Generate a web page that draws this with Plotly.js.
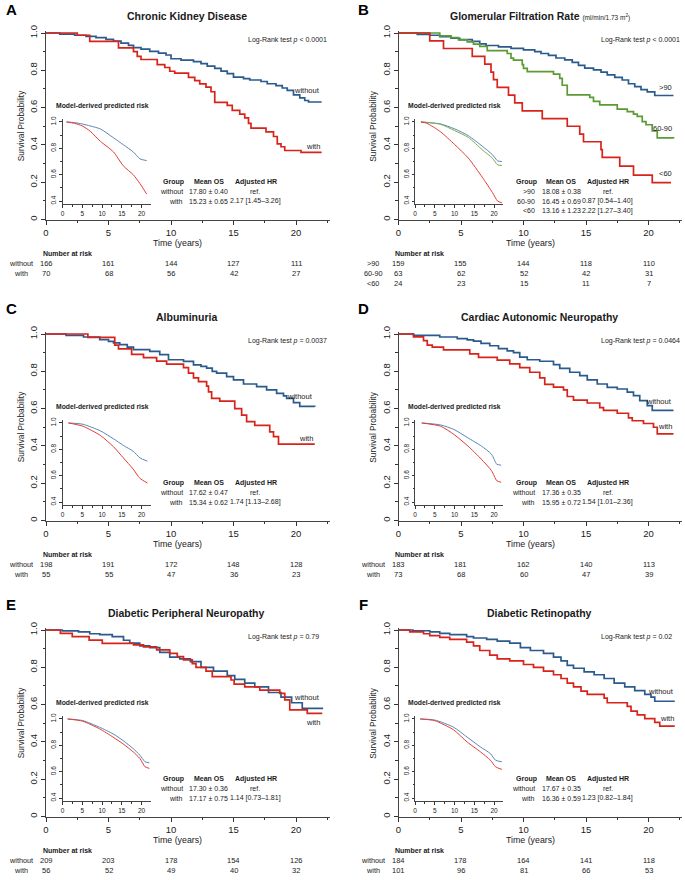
<!DOCTYPE html>
<html>
<head>
<meta charset="utf-8">
<script src="https://cdn.plot.ly/plotly-3.0.1.min.js"></script>
<style>
  html, body { margin: 0; padding: 0; background: #fff; }
  #chart { width: 685px; height: 880px; }
</style>
</head>
<body>
<div id="chart"></div>
<script>
// Kaplan-Meier step points [years, survival]
const ckdWithout = [[0,1],[1.1,0.994],[2.3,0.988],[3.2,0.982],[4.0,0.975],[4.8,0.966],[5.4,0.956],[6.0,0.946],[6.6,0.934],[7.0,0.922],[7.6,0.914],[8.3,0.902],[9.0,0.892],[9.6,0.882],[10.0,0.862],[10.8,0.855],[11.8,0.847],[12.4,0.836],[12.9,0.822],[13.5,0.81],[14.0,0.796],[14.5,0.782],[15.0,0.763],[15.8,0.755],[16.3,0.748],[17.2,0.74],[17.7,0.728],[18.4,0.718],[18.9,0.705],[19.3,0.692],[19.8,0.668],[20.3,0.652],[20.7,0.638],[21.0,0.63],[22.05,0.63]];
const ckdWith = [[0,1],[2.5,0.988],[3.5,0.955],[5.8,0.92],[7.0,0.9],[7.3,0.875],[7.6,0.858],[8.9,0.83],[9.5,0.815],[9.9,0.795],[10.3,0.785],[11.4,0.762],[11.9,0.745],[12.3,0.727],[12.8,0.71],[13.2,0.685],[13.5,0.628],[14.5,0.612],[14.9,0.585],[15.5,0.565],[15.9,0.545],[16.2,0.515],[16.4,0.49],[17.6,0.47],[18.2,0.445],[18.5,0.405],[18.8,0.39],[19.1,0.37],[20.4,0.36],[22.05,0.36]];

const gfrHigh = [[0,1],[1.5,0.993],[2.5,0.988],[3.3,0.98],[4.2,0.972],[4.9,0.964],[5.9,0.955],[6.5,0.942],[7.0,0.933],[8.0,0.926],[9.0,0.918],[10.0,0.91],[10.9,0.9],[11.4,0.89],[12.0,0.88],[12.6,0.866],[13.3,0.856],[13.9,0.842],[14.4,0.826],[14.9,0.812],[15.6,0.802],[16.2,0.79],[16.7,0.776],[17.3,0.762],[17.9,0.748],[18.4,0.728],[18.9,0.712],[19.4,0.696],[19.9,0.684],[20.5,0.665],[22.0,0.665]];
const gfrMid = [[0,1],[3.3,0.985],[4.2,0.975],[4.8,0.963],[5.5,0.952],[6.0,0.94],[6.5,0.928],[7.1,0.905],[8.7,0.89],[9.0,0.865],[9.2,0.855],[9.9,0.83],[10.0,0.81],[10.3,0.793],[12.4,0.78],[12.9,0.757],[13.1,0.72],[13.5,0.668],[15.3,0.655],[15.6,0.633],[16.1,0.615],[17.5,0.592],[18.3,0.578],[18.8,0.565],[19.1,0.553],[19.5,0.525],[19.8,0.508],[20.3,0.475],[20.7,0.438],[22.0,0.435]];
const gfrLow = [[0,1],[2.5,0.958],[3.6,0.917],[5.9,0.875],[6.9,0.833],[7.4,0.79],[7.6,0.75],[7.9,0.708],[8.8,0.667],[9.3,0.625],[9.9,0.583],[11.5,0.541],[13.5,0.5],[14.5,0.458],[14.8,0.417],[16.2,0.375],[16.3,0.333],[17.7,0.286],[18.8,0.238],[20.3,0.198],[21.8,0.198]];

const albWithout = [[0,1],[1.6,0.993],[3.0,0.984],[4.3,0.97],[5.0,0.96],[5.4,0.952],[5.9,0.943],[6.5,0.93],[7.0,0.916],[8.3,0.907],[9.1,0.889],[9.8,0.862],[11.0,0.853],[11.8,0.835],[12.4,0.826],[12.85,0.817],[13.3,0.8],[13.65,0.79],[14.45,0.772],[15.0,0.754],[15.8,0.732],[16.85,0.718],[17.65,0.7],[18.45,0.682],[19.0,0.668],[19.25,0.655],[19.8,0.632],[20.3,0.612],[21.5,0.61]];
const albWith = [[0,1],[3.35,0.982],[5.5,0.94],[5.8,0.92],[6.85,0.891],[7.8,0.873],[8.85,0.855],[9.65,0.838],[11.0,0.82],[11.4,0.79],[11.8,0.765],[12.2,0.745],[12.85,0.72],[13.0,0.69],[13.25,0.655],[13.9,0.64],[15.1,0.6],[15.65,0.565],[16.05,0.53],[16.7,0.51],[17.9,0.475],[18.2,0.45],[18.6,0.41],[21.5,0.41]];

const canWithout = [[0,1],[1.2,0.993],[3.3,0.984],[4.7,0.975],[5.5,0.968],[6.0,0.962],[6.6,0.95],[7.3,0.937],[8.0,0.922],[8.7,0.91],[9.2,0.9],[9.7,0.876],[10.3,0.862],[11.3,0.854],[12.4,0.836],[12.9,0.816],[13.7,0.795],[14.5,0.777],[15.1,0.754],[15.9,0.732],[16.7,0.714],[17.5,0.705],[18.3,0.688],[18.8,0.67],[19.3,0.643],[19.9,0.616],[20.3,0.59],[22.0,0.59]];
const canWith = [[0,1],[1.2,0.985],[2.0,0.965],[2.3,0.94],[2.7,0.93],[3.6,0.915],[5.7,0.893],[6.4,0.875],[7.9,0.86],[8.9,0.84],[9.7,0.82],[10.5,0.795],[11.3,0.765],[11.7,0.73],[12.4,0.715],[13.2,0.7],[13.5,0.665],[14.0,0.645],[15.1,0.63],[16.1,0.605],[16.4,0.59],[17.5,0.575],[18.4,0.55],[18.7,0.535],[19.6,0.52],[20.4,0.5],[20.7,0.465],[22.0,0.465]];

const dpnWithout = [[0,1],[1.3,0.995],[2.6,0.99],[3.5,0.98],[4.3,0.975],[5.3,0.965],[6.2,0.945],[6.7,0.93],[7.5,0.915],[8.3,0.905],[9.1,0.88],[9.9,0.855],[10.7,0.845],[11.55,0.83],[12.4,0.8],[13.4,0.78],[14.5,0.755],[15.1,0.735],[15.9,0.715],[16.7,0.695],[17.8,0.665],[18.8,0.64],[19.65,0.61],[20.5,0.58],[22.1,0.575]];
const dpnWith = [[0,1],[1.15,0.982],[2.1,0.964],[3.45,0.946],[4.5,0.928],[7.0,0.92],[7.8,0.91],[8.85,0.893],[9.9,0.875],[10.5,0.857],[11.0,0.84],[11.7,0.82],[12.0,0.8],[12.8,0.78],[13.3,0.75],[14.8,0.732],[15.05,0.71],[15.9,0.695],[17.1,0.678],[18.7,0.66],[19.1,0.625],[19.5,0.572],[20.9,0.553],[22.1,0.553]];

const drWithout = [[0,1],[1.15,0.996],[2.5,0.99],[3.3,0.982],[4.1,0.975],[5.45,0.965],[6.0,0.957],[7.05,0.95],[7.9,0.94],[8.9,0.93],[9.75,0.905],[10.55,0.89],[11.6,0.875],[12.4,0.855],[13.0,0.835],[13.5,0.81],[14.0,0.795],[14.85,0.775],[15.65,0.76],[16.45,0.74],[17.25,0.715],[18.1,0.695],[18.9,0.675],[19.7,0.655],[20.2,0.64],[20.5,0.618],[22.1,0.618]];
const drWith = [[0,1],[0.9,0.99],[2.0,0.98],[2.5,0.97],[3.3,0.96],[4.1,0.95],[5.45,0.935],[6.0,0.915],[6.5,0.89],[7.3,0.865],[7.9,0.845],[8.9,0.835],[10.0,0.815],[10.8,0.8],[11.6,0.78],[12.4,0.76],[13.0,0.74],[13.5,0.715],[14.0,0.695],[14.6,0.672],[15.1,0.655],[16.45,0.635],[16.7,0.61],[18.3,0.59],[18.6,0.565],[19.1,0.545],[19.7,0.525],[20.5,0.505],[20.9,0.485],[22.1,0.485]];

// model-derived predicted risk (insets)
const ckdModelWithout = [[1,1.0],[3,0.995],[5,0.985],[7,0.97],[9.6,0.947],[12.9,0.88],[15.4,0.827],[17.9,0.773],[19.6,0.72],[21.3,0.707]];
const ckdModelWith = [[1,1.0],[3,0.99],[5,0.97],[7,0.93],[9.6,0.853],[12.9,0.773],[15.4,0.667],[17.9,0.6],[19.6,0.533],[21.3,0.453]];
const gfrModelHigh = [[1.5,1.0],[3,0.997],[6.5,0.985],[10,0.948],[13.5,0.896],[17,0.817],[19.6,0.752],[20.9,0.705],[22,0.7]];
const gfrModelMid = [[1.5,1.0],[3,0.996],[6.5,0.982],[10,0.935],[13.5,0.883],[17,0.79],[19.6,0.725],[20.9,0.675],[22,0.67]];
const gfrModelLow = [[1.5,1.0],[3,0.99],[6.5,0.925],[10,0.83],[13.5,0.726],[17,0.582],[19.6,0.465],[20.9,0.4],[22,0.387]];
const albModelWithout = [[1.5,1.0],[5.2,0.99],[9.6,0.94],[12.9,0.88],[15.4,0.83],[17.9,0.785],[19.6,0.735],[21.5,0.71]];
const albModelWith = [[1.5,1.0],[5.2,0.975],[9.6,0.905],[12.9,0.82],[15.4,0.735],[17.9,0.65],[19.6,0.58],[21.5,0.545]];
const canModelWithout = [[1.7,1.0],[6.5,0.985],[9.9,0.95],[13.4,0.887],[16.8,0.825],[19.4,0.762],[20.7,0.687],[21.8,0.68]];
const canModelWith = [[1.7,1.0],[6.5,0.975],[9.9,0.912],[13.4,0.825],[16.8,0.725],[19.4,0.637],[20.7,0.562],[21.8,0.55]];
const dpnModelWithout = [[1.3,1.0],[5.1,0.988],[9.4,0.937],[12.8,0.887],[15.3,0.837],[17.9,0.775],[19.6,0.725],[20.9,0.675],[22,0.667]];
const dpnModelWith = [[1.3,1.0],[5.1,0.983],[9.4,0.925],[12.8,0.862],[15.3,0.812],[17.9,0.75],[19.6,0.7],[20.9,0.637],[22,0.625]];
const drModelWithout = [[1.3,1.0],[5,0.992],[9.8,0.937],[13.2,0.862],[16.6,0.787],[19.1,0.737],[20.4,0.687],[22,0.675]];
const drModelWith = [[1.3,1.0],[5,0.987],[9.8,0.917],[13.2,0.825],[16.6,0.75],[19.1,0.687],[20.4,0.637],[22,0.617]];

// number at risk at 0, 5, 10, 15, 20 years
const riskYears = [0, 5, 10, 15, 20];
const ckdRisk = [[166,161,144,127,111],[70,68,56,42,27]];
const gfrRisk = [[159,155,144,118,110],[63,62,52,42,31],[24,23,15,11,7]];
const albRisk = [[198,191,172,148,128],[55,55,47,36,23]];
const canRisk = [[183,181,162,140,113],[73,68,60,47,39]];
const dpnRisk = [[209,203,178,154,126],[56,52,49,40,32]];
const drRisk = [[184,178,164,141,118],[101,96,81,66,53]];

// group, mean OS, adjusted HR
const ckdStats = [["without","17.80 \u00b1 0.40","ref."],["with","15.23 \u00b1 0.65","2.17 [1.45\u20133.26]"]];
const gfrStats = [[">90","18.08 \u00b1 0.38","ref."],["60-90","16.45 \u00b1 0.69","0.87 [0.54\u20131.40]"],["<60","13.16 \u00b1 1.23","2.22 [1.27\u20133.40]"]];
const albStats = [["without","17.62 \u00b1 0.47","ref."],["with","15.34 \u00b1 0.62","1.74 [1.13\u20132.68]"]];
const canStats = [["without","17.36 \u00b1 0.35","ref."],["with","15.95 \u00b1 0.72","1.54 [1.01\u20132.36]"]];
const dpnStats = [["without","17.30 \u00b1 0.36","ref."],["with","17.17 \u00b1 0.75","1.14 [0.73\u20131.81]"]];
const drStats = [["without","17.67 \u00b1 0.35","ref."],["with","16.36 \u00b1 0.59","1.23 [0.82\u20131.84]"]];

const panelLetters = ["A", "B", "C", "D", "E", "F"];
const panelTitles = ["Chronic Kidney Disease",
  "Glomerular Filtration Rate <span style=\"font-size:6.5px;font-weight:normal\">(ml/min/1.73 m<sup>2</sup>)</span>",
  "Albuminuria", "Cardiac Autonomic Neuropathy", "Diabetic Peripheral Neuropathy", "Diabetic Retinopathy"];
const logRankP = ["< 0.0001", "< 0.0001", "= 0.0037", "= 0.0464", "= 0.79", "= 0.02"];

const BLUE = "#2b5b8c", RED = "#d8231b", GREEN = "#5b9a35";
const BLUE_L = "#5b86b6", RED_L = "#e23c33", GREEN_L = "#79ab50";
const FONT = '"Liberation Sans Narrow", "Liberation Sans", Arial, sans-serif';
const INK = "#1a1a1a";

const W = 685, H = 880;
const PX_YEAR = 12.5, MAIN_H = 186.5, X_MAX = 22.7;
const IN_PX_YEAR = 3.95, IN_X_MAX = 22.3;

function fx(p) { return p / W; }
function fy(p) { return 1 - p / H; }

// label y offsets (px below the 1.0 line) sit beside curve ends
const panels = [
  { x0: 46, yTop: 33, letterY: 10, curves: [ckdWithout, ckdWith], models: [ckdModelWithout, ckdModelWith],
    colors: [BLUE, RED], light: [BLUE_L, RED_L], risk: ckdRisk, stats: ckdStats,
    labels: [[22.05, 58], [22.05, 114]] },
  { x0: 398.5, yTop: 33, letterY: 10, curves: [gfrHigh, gfrMid, gfrLow], models: [gfrModelHigh, gfrModelMid, gfrModelLow],
    colors: [BLUE, GREEN, RED], light: [BLUE_L, GREEN_L, RED_L], risk: gfrRisk, stats: gfrStats,
    labels: [[22.0, 54.3], [22.0, 95.3], [22.0, 140.3]] },
  { x0: 46, yTop: 334, letterY: 308, curves: [albWithout, albWith], models: [albModelWithout, albModelWith],
    colors: [BLUE, RED], light: [BLUE_L, RED_L], risk: albRisk, stats: albStats,
    labels: [[21.5, 62.4], [21.5, 104.7]] },
  { x0: 398.5, yTop: 334, letterY: 308, curves: [canWithout, canWith], models: [canModelWithout, canModelWith],
    colors: [BLUE, RED], light: [BLUE_L, RED_L], risk: canRisk, stats: canStats,
    labels: [[22.05, 67.4], [22.05, 92.4]] },
  { x0: 46, yTop: 630, letterY: 604, curves: [dpnWithout, dpnWith], models: [dpnModelWithout, dpnModelWith],
    colors: [BLUE, RED], light: [BLUE_L, RED_L], risk: dpnRisk, stats: dpnStats,
    labels: [[22.05, 67.3], [22.05, 92.7]] },
  { x0: 398.5, yTop: 630, letterY: 604, curves: [drWithout, drWith], models: [drModelWithout, drModelWith],
    colors: [BLUE, RED], light: [BLUE_L, RED_L], risk: drRisk, stats: drStats,
    labels: [[22.2, 61], [22.2, 88.3]] }
];

function note(text, x, y, size, extra) {
  const a = {
    text: text, x: fx(x), y: fy(y), xref: "paper", yref: "paper",
    showarrow: false, xanchor: "center", yanchor: "middle",
    font: { family: FONT, size: size, color: INK }
  };
  return Object.assign(a, extra || {});
}

function axisBase(fontSize) {
  return {
    showline: true, linecolor: "#444", linewidth: 1,
    ticks: "outside", tickcolor: "#333", tickwidth: 1,
    showgrid: false, zeroline: false, fixedrange: true,
    tickfont: { family: FONT, size: fontSize, color: INK }
  };
}

const traces = [];
const layout = {
  width: W, height: H,
  margin: { l: 0, r: 0, t: 0, b: 0 },
  paper_bgcolor: "#ffffff", plot_bgcolor: "rgba(0,0,0,0)",
  showlegend: false,
  annotations: []
};

panels.forEach(function (pn, i) {
  const mi = 2 * i + 1, ii = 2 * i + 2;
  const mx = "x" + (mi === 1 ? "" : mi), my = "y" + (mi === 1 ? "" : mi);
  const ix = "x" + ii, iy = "y" + ii;
  const x0 = pn.x0, yTop = pn.yTop, yZero = yTop + MAIN_H;
  const groups = pn.stats.map(function (r) { return r[0]; });

  layout["xaxis" + (mi === 1 ? "" : mi)] = Object.assign(axisBase(9.5), {
    domain: [fx(x0), fx(x0 + X_MAX * PX_YEAR)], range: [0, X_MAX], anchor: my,
    tickvals: [0, 5, 10, 15, 20], ticklen: 4,
    minor: { tickvals: [2.5, 7.5, 12.5, 17.5, 22.5], ticks: "outside", ticklen: 2.5, tickcolor: "#333" }
  });
  layout["yaxis" + (mi === 1 ? "" : mi)] = Object.assign(axisBase(9.5), {
    domain: [fy(yZero), fy(yTop - 0.01 * MAIN_H)], range: [0, 1.01], anchor: mx,
    tickvals: [0, 0.2, 0.4, 0.6, 0.8, 1.0], ticktext: ["0", "0.2", "0.4", "0.6", "0.8", "1.0"],
    tickangle: -90, ticklen: 4,
    minor: { tickvals: [0.1, 0.3, 0.5, 0.7, 0.9], ticks: "outside", ticklen: 2.5, tickcolor: "#333" }
  });
  layout["xaxis" + ii] = Object.assign(axisBase(6.5), {
    domain: [fx(x0 + 16.5), fx(x0 + 16.5 + IN_X_MAX * IN_PX_YEAR)], range: [0, IN_X_MAX], anchor: iy,
    tickvals: [0, 5, 10, 15, 20], ticklen: 2.5,
    minor: { tickvals: [2.5, 7.5, 12.5, 17.5], ticks: "outside", ticklen: 1.5, tickcolor: "#333" }
  });
  layout["yaxis" + ii] = Object.assign(axisBase(6.5), {
    domain: [fy(yTop + 171.2), fy(yTop + 85.8)], range: [0.376, 1.024], anchor: ix,
    tickvals: [0.4, 0.6, 0.8, 1.0], ticktext: ["0.4", "0.6", "0.8", "1.0"],
    tickangle: -90, ticklen: 2.5,
    minor: { tickvals: [0.5, 0.7, 0.9], ticks: "outside", ticklen: 1.5, tickcolor: "#333" }
  });

  pn.curves.forEach(function (c, k) {
    traces.push({
      type: "scatter", mode: "lines", xaxis: mx, yaxis: my, hoverinfo: "skip",
      x: c.map(function (p) { return p[0]; }), y: c.map(function (p) { return p[1]; }),
      line: { shape: "hv", color: pn.colors[k], width: 1.7 }
    });
  });
  pn.models.forEach(function (c, k) {
    traces.push({
      type: "scatter", mode: "lines", xaxis: ix, yaxis: iy, hoverinfo: "skip",
      x: c.map(function (p) { return p[0]; }), y: c.map(function (p) { return p[1]; }),
      line: { shape: "spline", smoothing: 0.6, color: pn.light[k], width: 1 }
    });
  });

  const A = layout.annotations;
  A.push(note("<b>" + panelLetters[i] + "</b>", x0 - 35, pn.letterY, 15,
    { font: { family: '"Liberation Sans", Arial, sans-serif', size: 15, color: "#000" } }));
  A.push(note("<b>" + panelTitles[i] + "</b>", x0 + 141, yTop - 17.3, 10.5));
  A.push(note("Log-Rank test <i>p</i> " + logRankP[i], x0 + 200, yTop + 7, 7, { xanchor: "left" }));
  A.push(note("Survival Probability", x0 - 25, yTop + MAIN_H / 2, 8.3, { textangle: -90 }));
  A.push(note("Time (years)", x0 + 131.5, yZero + 23.3, 8.8));
  A.push(note("<b>Model-derived predicted risk</b>", x0 + 56, yTop + 73, 6.8));

  pn.labels.forEach(function (lb, k) {
    A.push({
      text: groups[k], xref: mx, x: lb[0], yref: "paper", y: fy(yTop + lb[1]),
      showarrow: false, xanchor: "right", yanchor: "middle",
      font: { family: FONT, size: 7.5, color: INK }
    });
  });

  // stats table
  const rowY = [158.5, 168.3, 177.8];
  A.push(note("<b>Group</b>", x0 + 140, yTop + 148.5, 7, { xanchor: "right" }));
  A.push(note("<b>Mean OS</b>", x0 + 162.5, yTop + 148.5, 7));
  A.push(note("<b>Adjusted HR</b>", x0 + 209.5, yTop + 148.5, 7));
  pn.stats.forEach(function (r, k) {
    A.push(note(r[0], x0 + 138.5, yTop + rowY[k], 7, { xanchor: "right" }));
    A.push(note(r[1], x0 + 162.5, yTop + rowY[k], 7));
    A.push(note(r[2], x0 + 209, yTop + rowY[k], 7));
  });

  // number at risk
  A.push(note("<b>Number at risk</b>", x0 - 5.5, yZero + 34.2, 7, { xanchor: "left" }));
  const riskY = [44.3, 54.2, 64.2];
  pn.risk.forEach(function (row, k) {
    A.push(note(groups[k], x0 - 25.5, yZero + riskY[k], 7.3));
    row.forEach(function (v, j) {
      A.push({
        text: String(v), xref: mx, x: riskYears[j], yref: "paper", y: fy(yZero + riskY[k]),
        showarrow: false, xanchor: "center", yanchor: "middle",
        font: { family: FONT, size: 7.5, color: INK }
      });
    });
  });
});

Plotly.newPlot("chart", traces, layout, { staticPlot: true, displayModeBar: false });
</script>
</body>
</html>
